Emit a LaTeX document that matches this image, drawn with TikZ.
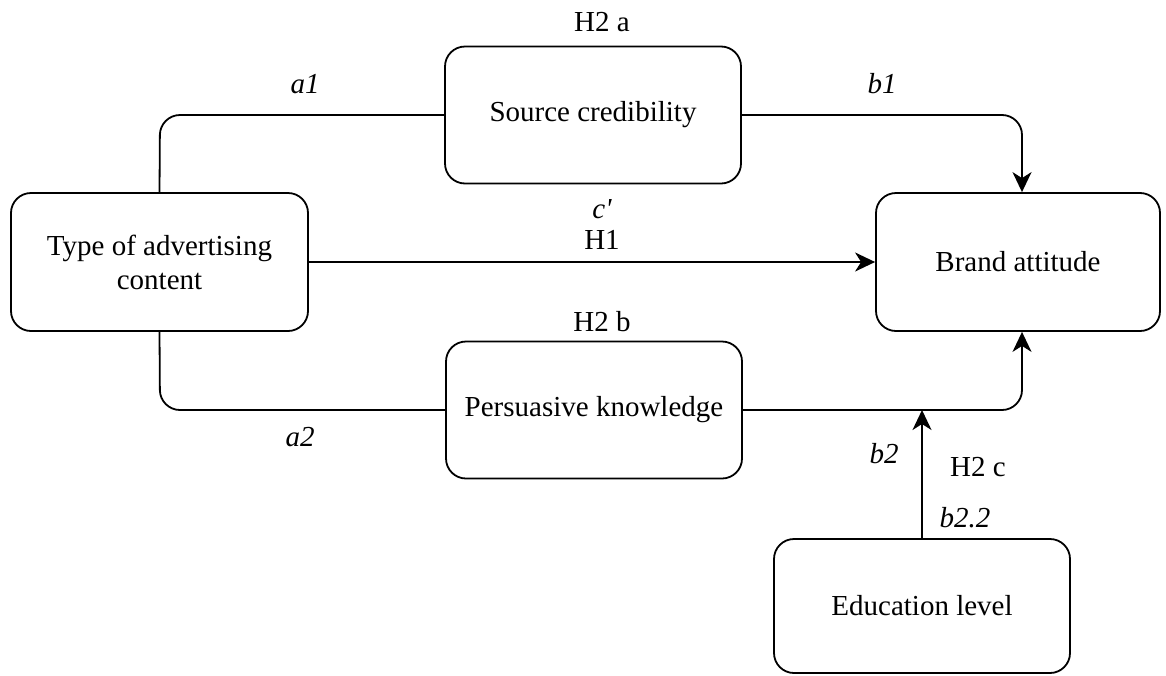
\documentclass[tikz,border=0pt]{standalone}
\usepackage{fontspec}
\setmainfont{Liberation Serif}
\usetikzlibrary{arrows.meta}
\begin{document}
\begin{tikzpicture}[x=1pt,y=-1pt,
  box/.style={draw, line width=1.8pt, rounded corners=20pt, align=center, font=\fontsize{29}{34}\selectfont, inner sep=0pt},
  conn/.style={line width=1.8pt, rounded corners=20pt},
  arr/.style={conn, -{Stealth[length=20pt,width=19pt,inset=6pt]}},
  lbl/.style={font=\fontsize{29}{34}\selectfont, inner sep=0pt},
  ilbl/.style={font=\fontsize{29}{34}\selectfont\itshape, inner sep=0pt}]
\useasboundingbox (0,0) rectangle (1166,675);
\node[box, minimum width=297pt, minimum height=138pt] (type) at (159.5,262) {Type of advertising\\content};
\node[box, minimum width=296pt, minimum height=137pt] (src) at (593,115) {Source credibility};
\node[box, minimum width=296pt, minimum height=137pt] (pk) at (594,410) {Persuasive knowledge};
\node[box, minimum width=284pt, minimum height=138pt] (brand) at (1018,262) {Brand attitude};
\node[box, minimum width=296pt, minimum height=134pt] (edu) at (922,606) {Education level};
\coordinate (c1) at (160,115);
\coordinate (c2) at (1022,115);
\coordinate (c3) at (160,410);
\coordinate (c4) at (1022,410);
\coordinate (m) at (922,410);
\draw[conn] (type.north) -- (c1) -- (src.west);
\draw[arr] (src.east) -- (c2) -- (brand.north -| c2);
\draw[arr] (type.east) -- (brand.west);
\draw[conn] (type.south) -- (c3) -- (pk.west);
\draw[arr] (pk.east) -- (c4) -- (brand.south -| c4);
\draw[arr] (edu.north) -- (m);
\node[lbl] (h2a) at (602,22) {H2 a};
\node[ilbl] (a1) at (305,84) {a1};
\node[ilbl] (b1) at (882,84) {b1};
\node[ilbl] (cp) at (602,209) {c\textquotesingle};
\node[lbl] (h1) at (602,240) {H1};
\node[lbl] (h2b) at (602,322) {H2 b};
\node[ilbl] (a2) at (300,437) {a2};
\node[ilbl] (b2) at (884,454) {b2};
\node[lbl] (h2c) at (978,467) {H2 c};
\node[ilbl] (b22) at (965,518) {b2.2};
\end{tikzpicture}
\end{document}
